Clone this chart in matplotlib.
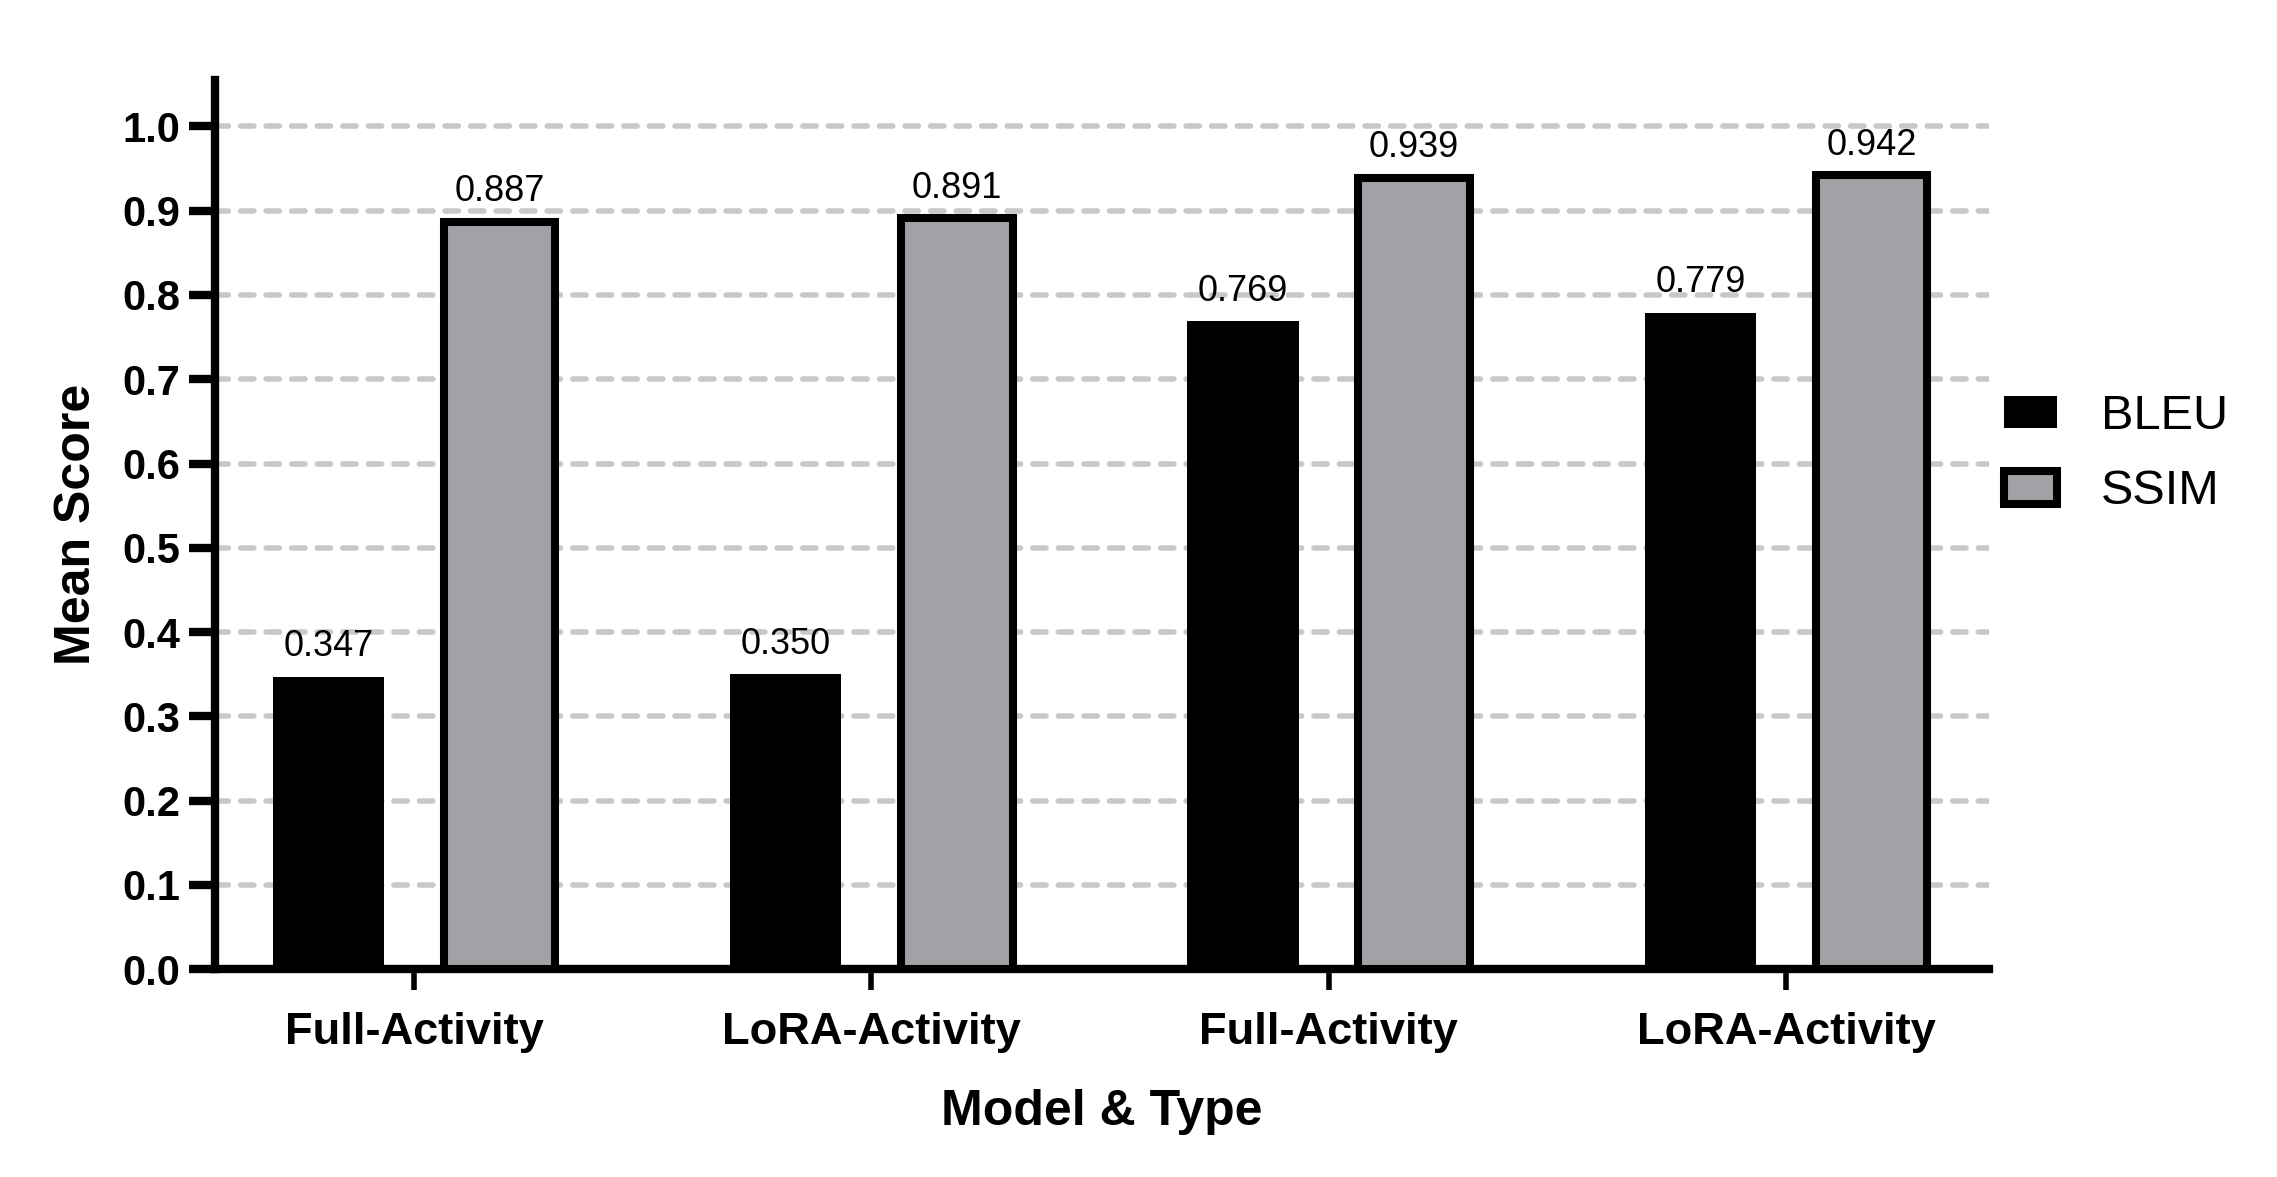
import numpy as np
import matplotlib
matplotlib.use('Agg')
import matplotlib.pyplot as plt

plt.rcParams['font.family'] = ['Liberation Sans', 'DejaVu Sans']

# data
groups = ['Full-Activity', 'LoRA-Activity', 'Full-Activity', 'LoRA-Activity']
bleu = [0.347, 0.350, 0.769, 0.779]
ssim = [0.887, 0.891, 0.939, 0.942]
y_ticks = [0.0, 0.1, 0.2, 0.3, 0.4, 0.5, 0.6, 0.7, 0.8, 0.9, 1.0]

fig = plt.figure(figsize=(2277 / 200, 1177 / 200), dpi=200)
ax = fig.add_axes([0.0944, 0.1765, 0.7793, 0.7555])

x = np.arange(len(groups))
w = 0.244
off = 0.187
lw = 2.9

b1 = ax.bar(x - off, bleu, w, color='black', linewidth=0,
            label='BLEU', zorder=3)
b2 = ax.bar(x + off, ssim, w, color='#a2a1a6', edgecolor='black', linewidth=lw,
            label='SSIM', zorder=3)

for bars in (b1, b2):
    for r in bars:
        h = r.get_height()
        ax.annotate('{:.3f}'.format(h), (r.get_x() + r.get_width() / 2, h),
                    xytext=(0, 4.5), textcoords='offset points',
                    ha='center', va='bottom', fontsize=13)

ax.set_xlim(-0.435, 3.445)
ax.set_ylim(0, 1.055)
ax.set_yticks(y_ticks)
ax.set_yticklabels(['{:.1f}'.format(t) for t in y_ticks])
ax.set_xticks(x)
ax.set_xticklabels(groups)

for t in y_ticks[1:]:
    ax.axhline(t, color='#c8c8c8', linewidth=2.0, linestyle=(0, (2.4, 2.2)),
               dash_capstyle='round', zorder=1)

for s in ('top', 'right'):
    ax.spines[s].set_visible(False)
for s in ('left', 'bottom'):
    ax.spines[s].set_linewidth(3.0)

ax.tick_params(axis='y', length=9.5, width=3.0, pad=3, labelsize=15)
ax.tick_params(axis='x', length=7.5, width=2.0, pad=8, labelsize=16.3)
for lab in ax.get_xticklabels() + ax.get_yticklabels():
    lab.set_fontweight('bold')

ax.set_ylabel('Mean Score', fontsize=18, fontweight='bold', labelpad=8)
ax.set_xlabel('Model & Type', fontsize=18, fontweight='bold', labelpad=13)

ax.legend(loc='center left', bbox_to_anchor=(0.880, 0.614),
          bbox_transform=fig.transFigure, frameon=False,
          fontsize=17.5, handlelength=1.1, handleheight=0.65,
          handletextpad=0.9, labelspacing=0.62, borderpad=0, borderaxespad=0)

fig.savefig('out.png', dpi=200)
